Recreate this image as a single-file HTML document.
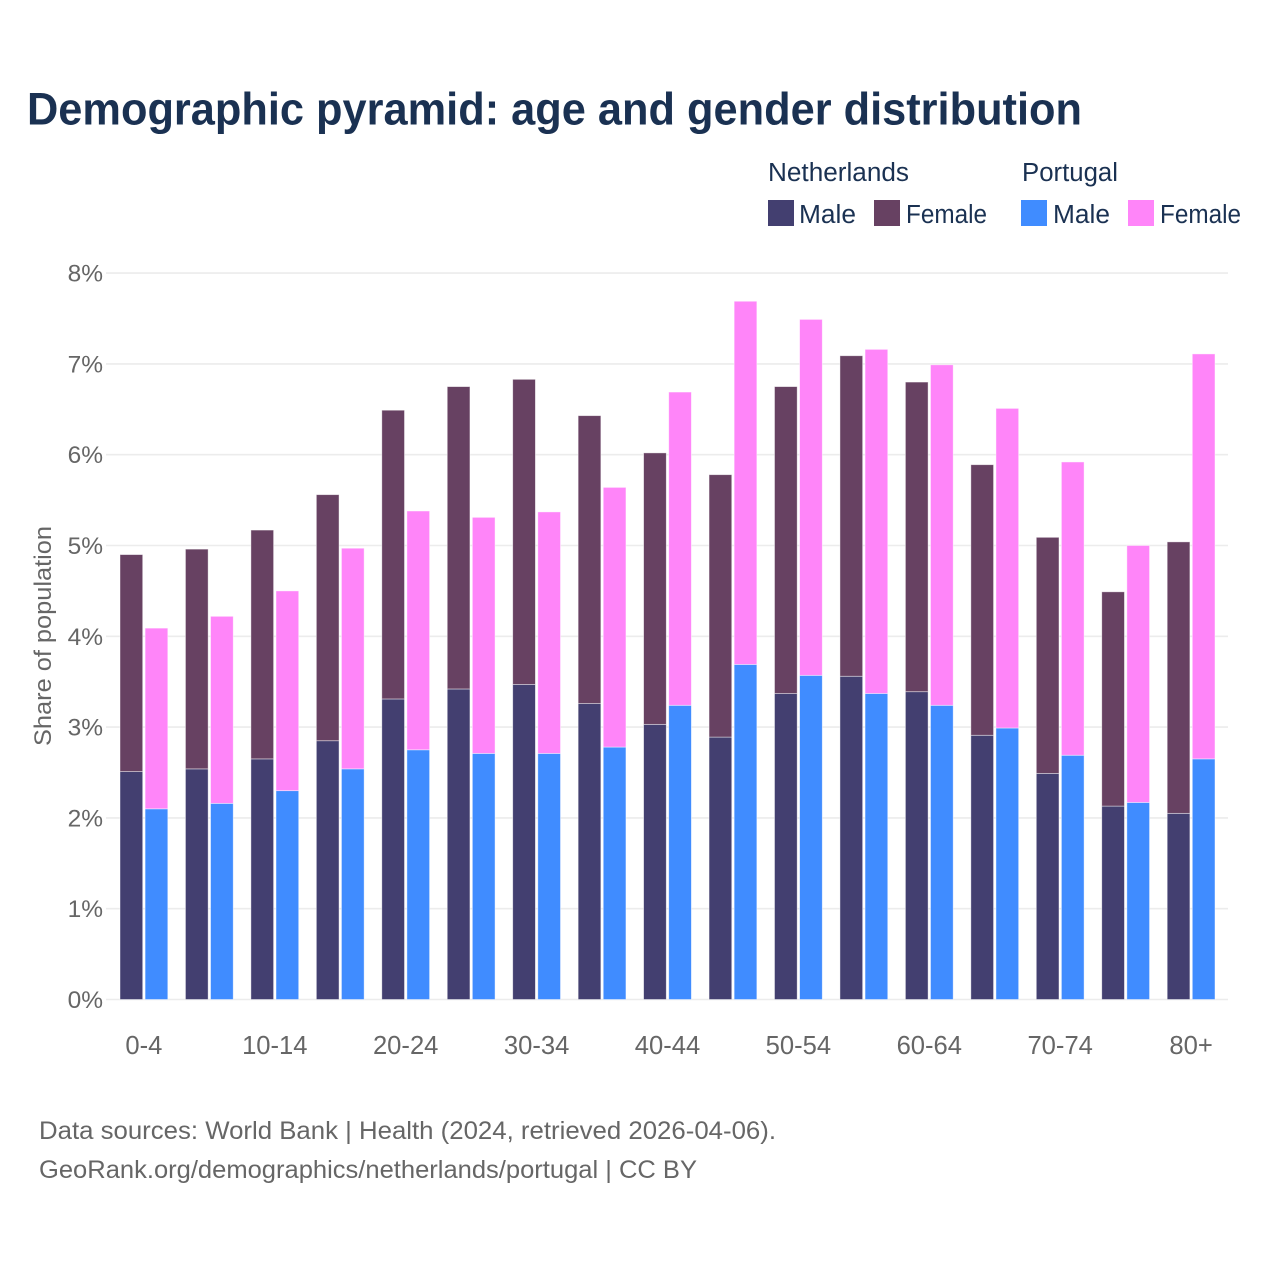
<!DOCTYPE html>
<html lang="en">
<head>
<meta charset="utf-8">
<title>Demographic pyramid</title>
<style>
html,body{margin:0;padding:0;background:#fff;width:1280px;height:1280px;overflow:hidden}
svg{display:block}
text{font-family:"Liberation Sans",sans-serif}
</style>
</head>
<body>
<svg id="chart" xmlns="http://www.w3.org/2000/svg" width="1280" height="1280" viewBox="0 0 1280 1280">
<rect width="1280" height="1280" fill="#fff"/>
<text x="27" y="124.5" font-size="45.5" font-weight="700" fill="#1a3152" textLength="1055" lengthAdjust="spacingAndGlyphs">Demographic pyramid: age and gender distribution</text>
<g id="grid"></g>
<g id="bars"></g>
<g id="xaxis"></g>
<g id="yaxis"></g>
<text transform="translate(51,746) rotate(-90)" font-size="24" fill="#666" textLength="220" lengthAdjust="spacingAndGlyphs">Share of population</text>
<g font-size="25.5" fill="#1a3152">
<text x="768" y="181" textLength="141" lengthAdjust="spacingAndGlyphs">Netherlands</text>
<text x="1022" y="181" textLength="96" lengthAdjust="spacingAndGlyphs">Portugal</text>
<rect x="768" y="200" width="26" height="26" fill="#433f70"/>
<text x="799" y="223" textLength="57" lengthAdjust="spacingAndGlyphs">Male</text>
<rect x="874" y="200" width="26" height="26" fill="#674162"/>
<text x="906" y="223" textLength="81" lengthAdjust="spacingAndGlyphs">Female</text>
<rect x="1021" y="200" width="26" height="26" fill="#408cff"/>
<text x="1053" y="223" textLength="57" lengthAdjust="spacingAndGlyphs">Male</text>
<rect x="1128" y="200" width="26" height="26" fill="#ff85f9"/>
<text x="1160" y="223" textLength="81" lengthAdjust="spacingAndGlyphs">Female</text>
</g>
<g font-size="25" fill="#666">
<text x="39" y="1139" textLength="737" lengthAdjust="spacingAndGlyphs">Data sources: World Bank | Health (2024, retrieved 2026-04-06).</text>
<text x="39" y="1178" textLength="658" lengthAdjust="spacingAndGlyphs">GeoRank.org/demographics/netherlands/portugal | CC BY</text>
</g>
</svg>
<script>
const categories = ["0-4","5-9","10-14","15-19","20-24","25-29","30-34","35-39","40-44","45-49","50-54","55-59","60-64","65-69","70-74","75-79","80+"];
const xTickLabels = ["0-4","","10-14","","20-24","","30-34","","40-44","","50-54","","60-64","","70-74","","80+"];
const yTickValues = [0,1,2,3,4,5,6,7,8];
const netherlandsMale = [2.51,2.54,2.65,2.85,3.31,3.42,3.47,3.26,3.03,2.89,3.37,3.56,3.39,2.91,2.49,2.13,2.05];
const netherlandsFemale = [2.39,2.42,2.52,2.71,3.18,3.33,3.36,3.17,2.99,2.89,3.38,3.53,3.41,2.98,2.60,2.36,2.99];
const portugalMale = [2.10,2.16,2.30,2.54,2.75,2.71,2.71,2.78,3.24,3.69,3.57,3.37,3.24,2.99,2.69,2.17,2.65];
const portugalFemale = [1.99,2.06,2.20,2.43,2.63,2.60,2.66,2.86,3.45,4.00,3.92,3.79,3.75,3.52,3.23,2.83,4.46];

const NS = "http://www.w3.org/2000/svg";
const y0 = 999.5, pxPerUnit = 90.8;
const firstCenter = 143.9, step = 65.45, barW = 22.7, barGap = 2.4;
function yScale(v){ return y0 - v * pxPerUnit; }
function xCenter(i){ return firstCenter + i * step; }
function make(tag, attrs, parent){
  const el = document.createElementNS(NS, tag);
  for (const k in attrs) el.setAttribute(k, attrs[k]);
  parent.appendChild(el);
  return el;
}
const gridG = document.getElementById("grid");
const yG = document.getElementById("yaxis");
const xG = document.getElementById("xaxis");
const barsG = document.getElementById("bars");

yTickValues.forEach(function(v){
  const line = make("line", {x1:106, x2:1228, y1:yScale(v), y2:yScale(v), stroke:"#ececec", "stroke-width":1.6}, gridG);
  
  
  const t = make("text", {x:103, y:yScale(v)+8.5, "text-anchor":"end", "font-size":24.5, fill:"#666"}, yG);
  
  
  t.textContent = v + "%";
});

xTickLabels.forEach(function(label, i){
  if (!label) return;
  const t = make("text", {x:xCenter(i), y:1054, "text-anchor":"middle", "font-size":25.6, fill:"#666"}, xG);
  
  
  t.textContent = label;
});

function drawBar(x, base, value, fill, name){
  const r = make("rect", {x:x, y:yScale(base+value), width:barW, height:value*pxPerUnit, fill:fill, stroke:"#fff", "stroke-opacity":0.55, "stroke-width":0.8}, barsG);
  
  
  const tip = make("title", {}, r);
  tip.textContent = name + " " + value + "%";
}
categories.forEach(function(cat, i){
  const c = xCenter(i);
  const xNl = c - barGap/2 - barW;
  const xPt = c + barGap/2;
  drawBar(xNl, 0, netherlandsMale[i], "#433f70", "bar-netherlands-male-" + cat);
  drawBar(xNl, netherlandsMale[i], netherlandsFemale[i], "#674162", "bar-netherlands-female-" + cat);
  drawBar(xPt, 0, portugalMale[i], "#408cff", "bar-portugal-male-" + cat);
  drawBar(xPt, portugalMale[i], portugalFemale[i], "#ff85f9", "bar-portugal-female-" + cat);
});
</script>
</body>
</html>
